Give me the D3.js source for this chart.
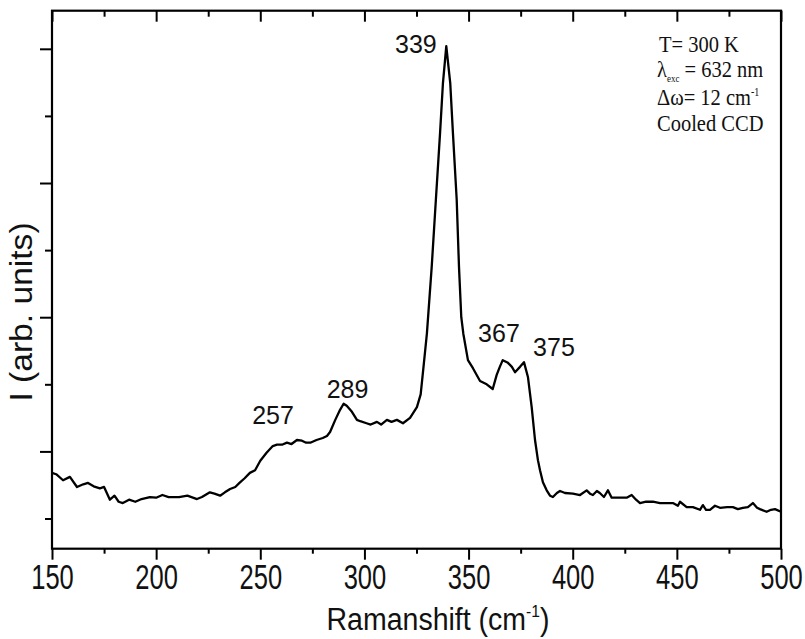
<!DOCTYPE html>
<html>
<head>
<meta charset="utf-8">
<script src="https://cdn.jsdelivr.net/npm/d3@7"></script>
<style>
  body { margin: 0; background: #fff; }
  svg { display: block; }
</style>
</head>
<body>
<svg id="chart" width="805" height="639"></svg>
<script>
// Raman shift (cm-1) and intensity (arb. units)
const shift = [150, 152, 155.3, 158.6, 162, 165, 167.3, 170, 173, 175, 177.8, 180, 182, 184, 187, 190, 193, 197, 200, 203,
  206, 211, 215, 219.6, 222, 225.8, 228, 230.7, 233, 235.5, 238, 240, 242.5, 245, 247.5, 250, 253, 256, 258, 260.4,
  262.8, 265, 267.6, 270, 272, 274, 277, 280, 282, 283.5, 286, 288.3, 290, 291.5, 294, 296.4, 298, 301, 303, 306,
  308, 310.8, 313, 315.6, 318.5, 321.9, 325.2, 327, 328.5, 330, 332.3, 334.3, 336.3, 337.7, 339.3, 341.2, 342.5, 344.3, 345.4, 346.5,
  347.5, 349.7, 352.1, 355.5, 358.7, 361.6, 363.5, 365, 366.4, 368.9, 370.8, 372.3, 374.7, 376.6, 378.5, 380.3, 381.9, 383.3,
  384.3, 385.7, 387.5, 389.1, 390.5, 392.4, 393.9, 396.3, 400.1, 403.5, 406.7, 408.3, 409.7, 411.6, 413, 415, 416.9, 418.7,
  422.7, 425.9, 428.3, 430.4, 432.3, 435.2, 438.5, 441.9, 445.1, 448.1, 450.5, 451.5, 454.7, 457.7, 461.1, 462.5, 464, 465.9,
  468.3, 470.7, 474.1, 476.9, 479.3, 481.7, 484.1, 486.5, 488.5, 489.9, 493.1, 495.2, 497.1, 500];
const intensity = [0.68, 0.66, 0.57, 0.62, 0.47, 0.51, 0.53, 0.48, 0.45, 0.47, 0.28, 0.34, 0.25, 0.23, 0.28, 0.25, 0.29, 0.32, 0.31, 0.35,
  0.32, 0.32, 0.34, 0.29, 0.32, 0.39, 0.37, 0.34, 0.39, 0.44, 0.47, 0.53, 0.60, 0.68, 0.72, 0.86, 0.98, 1.08, 1.10, 1.10,
  1.13, 1.11, 1.17, 1.16, 1.13, 1.13, 1.17, 1.20, 1.23, 1.29, 1.47, 1.62, 1.71, 1.68, 1.59, 1.47, 1.45, 1.42, 1.40, 1.44,
  1.40, 1.47, 1.44, 1.47, 1.42, 1.50, 1.66, 1.85, 2.30, 2.76, 3.75, 4.75, 5.74, 6.49, 7.04, 6.49, 5.74, 4.75, 3.75, 3.00,
  2.75, 2.36, 2.24, 2.05, 2.00, 1.93, 2.14, 2.26, 2.36, 2.32, 2.26, 2.18, 2.26, 2.33, 2.11, 1.66, 1.17, 0.87,
  0.72, 0.54, 0.42, 0.34, 0.32, 0.38, 0.41, 0.38, 0.37, 0.35, 0.42, 0.37, 0.35, 0.41, 0.38, 0.32, 0.42, 0.31,
  0.31, 0.31, 0.35, 0.28, 0.23, 0.25, 0.25, 0.23, 0.23, 0.23, 0.19, 0.25, 0.17, 0.17, 0.13, 0.20, 0.13, 0.13,
  0.19, 0.16, 0.17, 0.17, 0.14, 0.16, 0.17, 0.23, 0.16, 0.14, 0.10, 0.13, 0.14, 0.10];

// peak labels and where their text sits (data units)
const peakLabels = ["257", "289", "339", "367", "375"];
const peakLabelX = [256.1, 291.9, 324.7, 364.6, 391.0];
const peakLabelY = [1.41, 1.80, 6.94, 2.63, 2.42];

const xTicks = [150, 200, 250, 300, 350, 400, 450, 500];
const yTicks = [0, 1, 2, 3, 4, 5, 6, 7];

const svg = d3.select("#chart");
const plotLeft = 52, plotRight = 781, plotTop = 10.7, plotBottom = 548.7;

const x = d3.scaleLinear().domain([150, 500]).range([plotLeft, plotRight]);
const y = d3.scaleLinear().domain([-0.45, 7.568]).range([plotBottom, plotTop]);

const minorX = d3.range(175, 500, 50);

// bottom axis: major + minor ticks pointing out
const bottomAxis = svg.append("g").attr("transform", `translate(0,${plotBottom})`);
bottomAxis.call(d3.axisBottom(x).tickValues(xTicks).tickSize(11).tickPadding(4).tickFormat(d3.format("d")));
bottomAxis.append("g").call(d3.axisBottom(x).tickValues(minorX).tickSize(5).tickFormat(""));
bottomAxis.selectAll("path.domain").remove();
bottomAxis.selectAll("line").attr("stroke", "#000").attr("stroke-width", 2);
bottomAxis.selectAll("text")
  .attr("font-family", "Liberation Sans, Arial, sans-serif")
  .attr("font-size", 35)
  .attr("fill", "#111")
  .attr("transform", "scale(0.73,1)");

// top axis: ticks pointing in
const topAxis = svg.append("g").attr("transform", `translate(0,${plotTop})`);
topAxis.call(d3.axisBottom(x).tickValues(xTicks).tickSize(11).tickFormat(""));
topAxis.append("g").call(d3.axisBottom(x).tickValues(minorX).tickSize(6).tickFormat(""));
topAxis.selectAll("path.domain").remove();
topAxis.selectAll("line").attr("stroke", "#000").attr("stroke-width", 2);

// left axis: ticks only, long on odd values
const leftAxis = svg.append("g").attr("transform", `translate(${plotLeft},0)`);
leftAxis.call(d3.axisLeft(y).tickValues(yTicks.filter(d => d % 2 === 1)).tickSize(12).tickFormat(""));
leftAxis.append("g").call(d3.axisLeft(y).tickValues(yTicks.filter(d => d % 2 === 0)).tickSize(7).tickFormat(""));
leftAxis.selectAll("path.domain").remove();
leftAxis.selectAll("line").attr("stroke", "#000").attr("stroke-width", 2);

// frame
svg.append("rect")
  .attr("x", plotLeft).attr("y", plotTop)
  .attr("width", plotRight - plotLeft).attr("height", plotBottom - plotTop)
  .attr("fill", "none").attr("stroke", "#000").attr("stroke-width", 2.2);

// spectrum
const line = d3.line().x((d, i) => x(shift[i])).y(d => y(d));
svg.append("path")
  .datum(intensity)
  .attr("d", line)
  .attr("fill", "none")
  .attr("stroke", "#000")
  .attr("stroke-width", 2.3)
  .attr("stroke-linejoin", "round");

// peak labels
svg.selectAll("text.peak")
  .data(peakLabels)
  .enter().append("text")
  .attr("class", "peak")
  .attr("x", (d, i) => x(peakLabelX[i]))
  .attr("y", (d, i) => y(peakLabelY[i]))
  .attr("text-anchor", "middle")
  .attr("font-family", "Liberation Sans, Arial, sans-serif")
  .attr("font-size", 25)
  .attr("fill", "#111")
  .text(d => d);

// x title
const xTitle = svg.append("text")
  .attr("transform", "translate(438,630) scale(0.92,1)")
  .attr("text-anchor", "middle")
  .attr("font-family", "Liberation Sans, Arial, sans-serif")
  .attr("font-size", 31)
  .attr("fill", "#111");
xTitle.append("tspan").text("Ramanshift (cm");
xTitle.append("tspan").attr("dy", -13).attr("font-size", 17).text("-1");
xTitle.append("tspan").attr("dy", 13).text(")");

// y title
svg.append("text")
  .attr("transform", "translate(32,312) rotate(-90) scale(1.05,1)")
  .attr("text-anchor", "middle")
  .attr("font-family", "Liberation Sans, Arial, sans-serif")
  .attr("font-size", 32)
  .attr("fill", "#111")
  .text("I (arb. units)");

// conditions box text
const info = svg.append("g")
  .attr("font-family", "Liberation Serif, Times New Roman, serif")
  .attr("font-size", 20.5)
  .attr("fill", "#111");

info.append("text").attr("transform", "translate(659,52) scale(1,1.15)").text("T= 300 K");

const lam = info.append("text").attr("transform", "translate(657,77) scale(1,1.15)");
lam.append("tspan").text("λ");
lam.append("tspan").attr("dy", 4).attr("font-size", 9).text("exc");
lam.append("tspan").attr("dy", -4).text(" = 632 nm");

const dw = info.append("text").attr("transform", "translate(657,105) scale(1,1.15)");
dw.append("tspan").text("Δω= 12 cm");
dw.append("tspan").attr("dy", -8).attr("font-size", 10).text("-1");

info.append("text").attr("transform", "translate(657,131) scale(1,1.15)").text("Cooled CCD");
</script>
</body>
</html>
